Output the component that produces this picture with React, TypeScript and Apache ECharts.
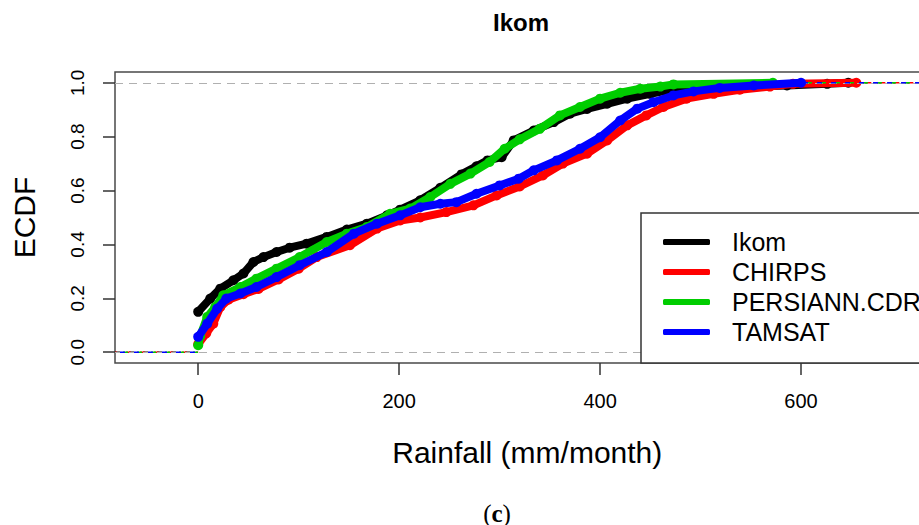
import React, { useEffect, useRef } from "react";
import * as echarts from "echarts";

const seriesNames = ["Ikom", "CHIRPS", "PERSIANN.CDR", "TAMSAT"];
const seriesColors = ["#000000", "#ff0000", "#00cd00", "#0000ff"];

const ikomX = [0, 12, 22, 35, 45, 55, 65, 78, 91, 108, 128, 148, 168, 188, 201, 221, 241, 262, 277, 288, 302, 314, 334, 354, 370, 387, 407, 427, 450, 470, 493, 519, 553, 586, 626, 647];
const ikomF = [0.15, 0.199, 0.236, 0.267, 0.292, 0.335, 0.353, 0.372, 0.388, 0.403, 0.428, 0.455, 0.477, 0.508, 0.529, 0.564, 0.61, 0.66, 0.69, 0.712, 0.724, 0.786, 0.823, 0.854, 0.885, 0.903, 0.922, 0.941, 0.959, 0.974, 0.978, 0.984, 0.986, 0.99, 0.996, 1.0];

const chirpsX = [0, 8, 15, 22, 30, 45, 60, 80, 100, 118, 151, 178, 201, 221, 247, 274, 297, 320, 343, 363, 387, 407, 427, 446, 463, 486, 513, 539, 569, 592, 655];
const chirpsF = [0.03, 0.07, 0.106, 0.168, 0.195, 0.215, 0.235, 0.27, 0.31, 0.353, 0.397, 0.459, 0.489, 0.5, 0.52, 0.545, 0.582, 0.615, 0.656, 0.7, 0.737, 0.786, 0.842, 0.879, 0.91, 0.941, 0.959, 0.974, 0.986, 0.996, 1.0];

const persiannX = [0, 2, 9, 17, 25, 42, 58, 78, 101, 128, 148, 168, 191, 211, 231, 251, 271, 290, 305, 320, 340, 360, 380, 400, 420, 440, 460, 473, 572];
const persiannF = [0.026, 0.06, 0.131, 0.168, 0.211, 0.242, 0.273, 0.31, 0.353, 0.409, 0.44, 0.465, 0.514, 0.533, 0.576, 0.625, 0.663, 0.706, 0.755, 0.79, 0.829, 0.879, 0.91, 0.941, 0.963, 0.978, 0.986, 0.994, 1.0];

const tamsatX = [0, 9, 19, 28, 42, 58, 78, 101, 128, 155, 178, 201, 221, 241, 257, 277, 300, 319, 334, 357, 380, 400, 420, 437, 453, 473, 493, 519, 553, 600];
const tamsatF = [0.057, 0.106, 0.162, 0.199, 0.218, 0.242, 0.279, 0.323, 0.372, 0.44, 0.477, 0.508, 0.538, 0.551, 0.557, 0.588, 0.619, 0.644, 0.675, 0.712, 0.755, 0.798, 0.86, 0.904, 0.928, 0.953, 0.968, 0.981, 0.99, 1.0];

const xMin = -82.8;
const xMax = 737.8;
const yMin = -0.04;
const yMax = 1.04;
const xTicks = [0, 200, 400, 600];
const yTicks = [0, 0.2, 0.4, 0.6, 0.8, 1.0];

const zip = (xs: number[], ys: number[]) => xs.map((x, i) => [x, ys[i]]);

export default function App() {
  const ref = useRef<HTMLDivElement>(null);
  useEffect(() => {
    document.body.style.margin = "0";
    if (!ref.current) return;
    const chart = echarts.init(ref.current, null, { renderer: "svg" });
    const xs = [ikomX, chirpsX, persiannX, tamsatX];
    const fs = [ikomF, chirpsF, persiannF, tamsatF];
    const font = "'Liberation Sans', Arial, sans-serif";
    const serif = "'Liberation Serif', 'DejaVu Serif', serif";

    const mainSeries: any[] = seriesNames.map((name, i) => ({
      type: "line",
      name,
      data: zip(xs[i], fs[i]),
      symbol: "circle",
      symbolSize: 10,
      showSymbol: true,
      lineStyle: { width: 8, color: seriesColors[i], cap: "round", join: "round" },
      itemStyle: { color: seriesColors[i] },
      emphasis: { disabled: true },
      silent: true,
      z: 3 + i,
    }));

    mainSeries[0].markLine = {
      silent: true,
      symbol: ["none", "none"],
      label: { show: false },
      lineStyle: { color: "#b0b0b0", type: [8, 6], width: 1.2 },
      data: [{ yAxis: 0 }, { yAxis: 1 }],
    };

    const tailSeries: any[] = [];
    seriesNames.forEach((name, i) => {
      tailSeries.push({
        type: "line",
        data: [[xMin, 0], [xs[i][0], 0]],
        symbol: "none",
        silent: true,
        lineStyle: { width: 1.5, color: seriesColors[i], type: [5, 9], dashOffset: i * 3 },
        z: 3 + i,
      });
      tailSeries.push({
        type: "line",
        data: [[xs[i][xs[i].length - 1], 1], [xMax, 1]],
        symbol: "none",
        silent: true,
        lineStyle: { width: 1.5, color: seriesColors[i], type: [5, 9], dashOffset: i * 4 },
        z: 3 + i,
      });
    });

    chart.setOption({
      animation: false,
      backgroundColor: "#ffffff",
      title: {
        text: "Ikom",
        left: 493,
        top: 10,
        padding: 0,
        textStyle: { fontFamily: font, fontSize: 24, fontWeight: "bold", color: "#000" },
      },
      grid: {
        left: 115,
        top: 72,
        width: 824.5,
        height: 291,
        show: true,
        borderColor: "#4a4a4a",
        borderWidth: 1.5,
        backgroundColor: "transparent",
      },
      legend: {
        orient: "vertical",
        left: 641,
        top: 213,
        data: seriesNames,
        icon: "roundRect",
        itemWidth: 47,
        itemHeight: 6,
        itemGap: 4,
        padding: [16, 30, 18, 22],
        borderColor: "#333",
        borderWidth: 1.5,
        borderRadius: 0,
        backgroundColor: "#ffffff",
        selectedMode: false,
        textStyle: { fontFamily: font, fontSize: 25, color: "#000", lineHeight: 26, padding: [0, 0, 0, 17] },
        z: 10,
      },
      xAxis: {
        type: "value",
        min: xMin,
        max: xMax,
        name: "Rainfall (mm/month)",
        nameLocation: "middle",
        nameGap: 74,
        nameTextStyle: { fontFamily: font, fontSize: 30, color: "#000" },
        axisLine: { show: false, onZero: false },
        splitLine: { show: false },
        axisTick: { show: true, length: 12, customValues: xTicks, lineStyle: { color: "#333", width: 1.5 } },
        axisLabel: { customValues: xTicks, margin: 28, fontFamily: font, fontSize: 20, color: "#000" },
      },
      yAxis: {
        type: "value",
        min: yMin,
        max: yMax,
        name: "ECDF",
        nameLocation: "middle",
        nameGap: 76,
        nameTextStyle: { fontFamily: font, fontSize: 30, color: "#000" },
        axisLine: { show: false, onZero: false },
        splitLine: { show: false },
        axisTick: { show: true, length: 12, customValues: yTicks, lineStyle: { color: "#333", width: 1.5 } },
        axisLabel: {
          customValues: yTicks,
          rotate: 90,
          margin: 28,
          fontFamily: font,
          fontSize: 19,
          color: "#000",
          formatter: (v: number) => v.toFixed(1),
        },
      },
      graphic: [
        {
          type: "text",
          x: 497,
          y: 513,
          style: {
            text: "({b|c})",
            fontFamily: serif,
            fontSize: 25,
            fill: "#000",
            align: "center",
            verticalAlign: "middle",
            rich: { b: { fontWeight: "bold", fontFamily: serif, fontSize: 25 } },
          },
        },
      ],
      series: [...mainSeries, ...tailSeries],
    });
    return () => chart.dispose();
  }, []);
  return (
    <div style={{ width: 919, height: 525, overflow: "hidden", position: "relative", background: "#fff" }}>
      <div ref={ref} style={{ width: 945, height: 525 }} />
    </div>
  );
}
